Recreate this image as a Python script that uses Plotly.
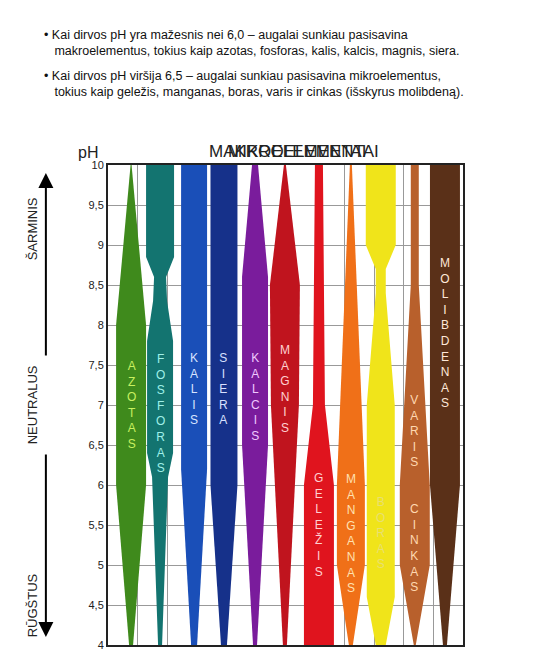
import plotly.graph_objects as go

# elements, colours, column centres (column units) and width profiles (pH, full width in px)
names = ['AZOTAS', 'FOSFORAS', 'KALIS', 'SIERA', 'KALCIS', 'MAGNIS',
         'GELEŽIS', 'MANGANAS', 'BORAS', 'VARIS  CINKAS', 'MOLIBDENAS']
colors = ['#3f8a1c', '#137470', '#1a4fb8', '#16318a', '#7a1c9c', '#c0141e',
          '#e0141e', '#f07018', '#f0e41a', '#b8602c', '#5a3018']
text_colors = ['#c8f060', '#9ff0e8', '#d8e4ff', '#d8e0ff', '#f0c8ff', '#ffd0d0',
               '#ffd0d0', '#ffe0b0', '#e8e070', '#ffd8b0', '#ffe8d8']
centers = [0.78, 1.76, 2.91, 3.92, 4.97, 5.98, 7.13, 8.21, 9.22, 10.37, 11.39]
text_y = [7.0, 6.9, 7.2, 7.2, 7.1, 7.2, 5.5, 5.4, 5.4, 5.9, 7.9]
profiles = [
    [(10, 1), (8, 30), (6, 30), (4, 4)],
    [(10, 28), (8.85, 28), (8.6, 12), (8.3, 14), (7.8, 26), (6.4, 26), (6.1, 16), (4, 4)],
    [(10, 26), (6.2, 26), (4, 6)],
    [(10, 27), (6.0, 27), (4, 6)],
    [(10, 6), (8.6, 26), (6.5, 26), (4, 4)],
    [(10, 2), (8.5, 30), (7.0, 28), (4, 4)],
    [(10, 8), (7.0, 12), (6.0, 30), (4, 30)],
    [(10, 2), (6.0, 28), (5.0, 28), (4, 4)],
    [(10, 30), (9.0, 30), (8.7, 10), (8.4, 10), (7.0, 28), (4.6, 28), (4, 10)],
    [(10, 8), (8.5, 8), (6.0, 30), (5.0, 30), (4, 2)],
    [(10, 30), (6.0, 30), (4, 4)],
]
ph_ticks = [4, 4.5, 5, 5.5, 6, 6.5, 7, 7.5, 8, 8.5, 9, 9.5, 10]
ph_labels = ['4', '4,5', '5', '5,5', '6', '6,5', '7', '7,5', '8', '8,5', '9', '9,5', '10']

PX = 29.6  # px per column
fig = go.Figure()
for name, col, tc, cx, ty, prof in zip(names, colors, text_colors, centers, text_y, profiles):
    ys = [p[0] for p in prof]
    right = [cx + p[1] / 2 / PX for p in prof]
    left = [cx - p[1] / 2 / PX for p in prof]
    fig.add_trace(go.Scatter(x=right + left[::-1], y=ys + ys[::-1], fill='toself',
                             fillcolor=col, line=dict(width=0), mode='lines',
                             hoverinfo='skip', showlegend=False))
    fig.add_annotation(x=cx, y=ty, text='<br>'.join(name), showarrow=False,
                       font=dict(size=12, color=tc, family='Arial'))

fig.update_layout(
    width=544, height=661, margin=dict(l=100, r=89, t=157, b=24),
    plot_bgcolor='white', paper_bgcolor='white',
    font=dict(family='Liberation Sans, Arial', color='#222'),
    xaxis=dict(range=[0, 12], dtick=1, showticklabels=False, showgrid=True,
               gridcolor='#999', zeroline=False, showline=True, linecolor='#222',
               linewidth=2, mirror=True),
    yaxis=dict(range=[4, 10], tickvals=ph_ticks, ticktext=ph_labels, showgrid=True,
               gridcolor='#999', zeroline=False, showline=True, linecolor='#222',
               linewidth=2, mirror=True, tickfont=dict(size=11, color='#222')),
)

bullets = ['• Kai dirvos pH yra mažesnis nei 6,0 – augalai sunkiau pasisavina<br>'
           '   makroelementus, tokius kaip azotas, fosforas, kalis, kalcis, magnis, siera.',
           '• Kai dirvos pH viršija 6,5 – augalai sunkiau pasisavina mikroelementus,<br>'
           '   tokius kaip geležis, manganas, boras, varis ir cinkas (išskyrus molibdeną).']
for i, b in enumerate(bullets):
    fig.add_annotation(xref='paper', yref='paper', x=-0.185, xanchor='left',
                       y=1.29 - i * 0.085, yanchor='top', text=b, align='left',
                       showarrow=False, font=dict(size=12.5, color='#111'))

fig.add_annotation(xref='paper', yref='paper', x=-0.09, y=1.005, yanchor='bottom',
                   text='pH', showarrow=False, font=dict(size=16))
fig.add_annotation(xref='paper', yref='paper', x=0.28, y=1.005, yanchor='bottom',
                   text='MAKROELEMENTAI', showarrow=False, font=dict(size=17))
fig.add_annotation(xref='paper', yref='paper', x=0.77, y=1.005, yanchor='bottom',
                   text='MIKROELEMENTAI', showarrow=False, font=dict(size=17))
for txt, yv in [('ŠARMINIS', 9.2), ('NEUTRALUS', 7.0), ('RŪGŠTUS', 4.5)]:
    fig.add_annotation(xref='paper', x=-0.24, y=yv, text=txt, textangle=-90,
                       showarrow=False, font=dict(size=13))
# arrows on the left
fig.add_annotation(xref='paper', yref='y', x=-0.175, y=9.9, ax=0, ay=184,
                   showarrow=True, arrowhead=2, arrowsize=1.5, arrowwidth=2,
                   arrowcolor='black', text='')
fig.add_annotation(xref='paper', yref='y', x=-0.175, y=4.1, ax=0, ay=-184,
                   showarrow=True, arrowhead=2, arrowsize=1.5, arrowwidth=2,
                   arrowcolor='black', text='')

fig.write_html('out.html')
